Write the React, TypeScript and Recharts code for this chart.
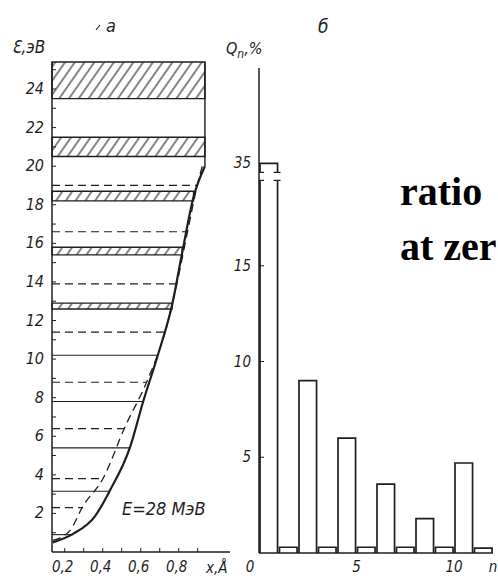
import React from "react";
import {
  Bar,
  BarChart,
  ComposedChart,
  Line,
  ReferenceArea,
  ReferenceLine,
  XAxis,
  YAxis,
} from "recharts";

const INK = "#1e1e1e";
const LABEL_FONT = "'DejaVu Sans Condensed', 'DejaVu Sans', sans-serif";

// ---- panel a: levels in the potential well ----
const X_MIN = 0.133;
const X_MAX = 1.07;
const BOX_RIGHT = 0.938;
const E_MAX = 25.4;

const solidCurve = [
  { x: 0.138, e: 0.5 },
  { x: 0.244, e: 0.94 },
  { x: 0.359, e: 1.85 },
  { x: 0.438, e: 3.19 },
  { x: 0.544, e: 5.44 },
  { x: 0.613, e: 7.8 },
  { x: 0.69, e: 10.2 },
  { x: 0.765, e: 12.8 },
  { x: 0.818, e: 15.5 },
  { x: 0.878, e: 18.4 },
  { x: 0.938, e: 20.0 },
];

const dashedCurve = [
  { x: 0.138, e: 0.6 },
  { x: 0.228, e: 1.12 },
  { x: 0.296, e: 2.38 },
  { x: 0.401, e: 3.8 },
  { x: 0.517, e: 6.48 },
  { x: 0.633, e: 8.85 },
  { x: 0.728, e: 11.39 },
  { x: 0.791, e: 13.93 },
  { x: 0.846, e: 16.58 },
  { x: 0.898, e: 19.02 },
  { x: 0.93, e: 20.2 },
];

// hatched bands: low edge, high edge, right end
const bands = [
  { lo: 23.5, hi: 25.4, end: 0.938 },
  { lo: 20.5, hi: 21.5, end: 0.938 },
  { lo: 18.2, hi: 18.7, end: 0.878 },
  { lo: 15.4, hi: 15.8, end: 0.818 },
  { lo: 12.6, hi: 12.9, end: 0.765 },
];

const solidLevels = [
  { e: 10.2, end: 0.69 },
  { e: 7.8, end: 0.613 },
  { e: 5.4, end: 0.544 },
  { e: 3.15, end: 0.438 },
  { e: 0.9, end: 0.244 },
];

const dashedLevels = [
  { e: 19.0, end: 0.898 },
  { e: 16.6, end: 0.846 },
  { e: 13.9, end: 0.791 },
  { e: 11.4, end: 0.728 },
  { e: 8.8, end: 0.633 },
  { e: 6.4, end: 0.517 },
  { e: 3.8, end: 0.401 },
  { e: 2.3, end: 0.296 },
];

const xTicks = [0.2, 0.3, 0.4, 0.5, 0.6, 0.7, 0.8, 0.9];
const xTickLabels = ["0,2", "", "0,4", "", "0,6", "", "0,8", ""];
const eTicks = Array.from({ length: 25 }, (_, i) => i + 1);

// ---- panel b: histogram ----
const nValues = [0, 1, 2, 3, 4, 5, 6, 7, 8, 9, 10, 11];
const qValues = [35, 0.3, 9.0, 0.3, 6.0, 0.3, 3.6, 0.3, 1.8, 0.3, 4.7, 0.25];
const Q_BREAK_FROM = 16; // values above this are drawn on a broken axis
const Q_BREAK_SHOWN = 20.35; // where 35 sits on the broken axis
const qTicks = [5, 10, 15, 35];

const toShown = (v: number) => (v > Q_BREAK_FROM ? Q_BREAK_SHOWN + (v - 35) : v);

const barRows = nValues.map((n, i) => ({
  pos: n + 0.5,
  q: qValues[i],
  shown: toShown(qValues[i]),
  broken: qValues[i] > Q_BREAK_FROM,
}));

const labelStyle = {
  fontFamily: LABEL_FONT,
  fontStyle: "italic" as const,
  fill: INK,
};

function LeftYTick(props: any) {
  const { x, y, payload } = props;
  const v = Math.round(payload.value as number);
  return (
    <g>
      <line x1={x} x2={x + 4} y1={y} y2={y} stroke={INK} strokeWidth={1} />
      {v % 2 === 0 && (
        <text x={x - 8} y={y} dy={5} textAnchor="end" fontSize={16} {...labelStyle}>
          {v}
        </text>
      )}
    </g>
  );
}

function LeftXTick(props: any) {
  const { x, y, payload } = props;
  const i = xTicks.findIndex((t) => Math.abs(t - payload.value) < 1e-6);
  const label = i >= 0 ? xTickLabels[i] : "";
  return (
    <g>
      <line x1={x} x2={x} y1={y} y2={y - 4} stroke={INK} strokeWidth={1} />
      {label && (
        <text x={x - 2} y={y + 20} textAnchor="middle" fontSize={15} {...labelStyle}>
          {label}
        </text>
      )}
    </g>
  );
}

function RightYTick(props: any) {
  const { x, y, payload } = props;
  const i = qTicks.map(toShown).findIndex((t) => Math.abs(t - payload.value) < 1e-6);
  return (
    <g>
      {i < 3 && <line x1={x} x2={x + 5} y1={y} y2={y} stroke={INK} strokeWidth={1} />}
      <text x={x - 8} y={y} dy={5} textAnchor="end" fontSize={15} {...labelStyle}>
        {qTicks[i]}
      </text>
    </g>
  );
}

function RightXTick(props: any) {
  const { x, y, payload } = props;
  const v = payload.value as number;
  const label = v === 12 ? "n" : String(v);
  return (
    <text x={v === 0 ? x - 9 : x} y={y + 19} textAnchor="middle" fontSize={15} {...labelStyle}>
      {label}
    </text>
  );
}

function BarOutline(props: any) {
  const { x, y, width, height, payload } = props;
  const right = x + width;
  const bottom = y + height;
  if (!payload.broken) {
    return (
      <path
        d={`M${x},${bottom}V${y}H${right}V${bottom}`}
        fill="#fff"
        stroke={INK}
        strokeWidth={1.7}
      />
    );
  }
  const g1 = y + 9;
  const g2 = y + 17;
  return (
    <g>
      <rect x={x} y={y} width={width} height={height} fill="#fff" />
      <rect x={x - 3} y={g1 + 1} width={width + 6} height={g2 - g1 - 2} fill="#fff" />
      <path
        d={`M${x},${g1}V${y}H${right}V${g1} M${x},${g2}V${bottom} M${right},${g2}V${bottom}`}
        fill="none"
        stroke={INK}
        strokeWidth={1.7}
      />
      <path
        d={`M${x - 3},${g1}H${x + 4} M${right - 4},${g1}H${right + 3} M${x - 3},${g2}H${x + 4} M${right - 4},${g2}H${right + 3}`}
        fill="none"
        stroke={INK}
        strokeWidth={1.2}
      />
    </g>
  );
}

function WellPanel() {
  return (
    <ComposedChart width={240} height={578} margin={{ top: 62, right: 10, bottom: 0, left: 7 }}>
      <defs>
        <pattern
          id="hatch"
          width="8"
          height="8"
          patternUnits="userSpaceOnUse"
          patternTransform="rotate(35)"
        >
          <line x1="1" y1="0" x2="1" y2="8" stroke={INK} strokeWidth="1.1" />
        </pattern>
      </defs>
      <XAxis
        type="number"
        dataKey="x"
        domain={[X_MIN, X_MAX]}
        allowDataOverflow
        ticks={xTicks}
        interval={0}
        tick={LeftXTick}
        tickLine={false}
        tickSize={0}
        tickMargin={0}
        height={26}
        axisLine={{ stroke: INK, strokeWidth: 1.5 }}
      />
      <YAxis
        type="number"
        domain={[0, E_MAX]}
        allowDataOverflow
        ticks={eTicks}
        interval={0}
        tick={LeftYTick}
        tickLine={false}
        tickSize={0}
        tickMargin={0}
        width={45}
        axisLine={{ stroke: INK, strokeWidth: 1.5 }}
      />
      {bands.map((b) => (
        <ReferenceArea
          key={`band-${b.lo}`}
          x1={X_MIN}
          x2={b.end}
          y1={b.lo}
          y2={b.hi}
          fill="url(#hatch)"
          fillOpacity={1}
          stroke={INK}
          strokeWidth={1.4}
          ifOverflow="visible"
        />
      ))}
      <ReferenceLine
        segment={[
          { x: BOX_RIGHT, y: 20.0 },
          { x: BOX_RIGHT, y: E_MAX },
        ]}
        stroke={INK}
        strokeWidth={1.4}
        ifOverflow="visible"
      />
      {dashedLevels.map((l) => (
        <ReferenceLine
          key={`d-${l.e}`}
          segment={[
            { x: X_MIN, y: l.e },
            { x: l.end, y: l.e },
          ]}
          stroke={INK}
          strokeWidth={1.2}
          strokeDasharray="8 5"
        />
      ))}
      {solidLevels.map((l) => (
        <ReferenceLine
          key={`s-${l.e}`}
          segment={[
            { x: X_MIN, y: l.e },
            { x: l.end, y: l.e },
          ]}
          stroke={INK}
          strokeWidth={1.1}
        />
      ))}
      <Line
        data={dashedCurve}
        dataKey="e"
        type="monotone"
        stroke={INK}
        strokeWidth={1.3}
        strokeDasharray="8 5"
        dot={false}
        isAnimationActive={false}
      />
      <Line
        data={solidCurve}
        dataKey="e"
        type="monotone"
        stroke={INK}
        strokeWidth={2.2}
        dot={false}
        isAnimationActive={false}
      />
    </ComposedChart>
  );
}

function SharePanel() {
  return (
    <BarChart
      width={288}
      height={578}
      data={barRows}
      margin={{ top: 68, right: 5, bottom: 0, left: 9 }}
      barCategoryGap={0}
      barGap={0}
    >
      <XAxis
        type="number"
        dataKey="pos"
        domain={[0, 12]}
        allowDataOverflow
        ticks={[0, 5, 10, 12]}
        interval={0}
        tick={RightXTick}
        tickLine={false}
        tickSize={0}
        tickMargin={0}
        height={25}
        axisLine={{ stroke: INK, strokeWidth: 1.5 }}
      />
      <YAxis
        type="number"
        domain={[0, 25.33]}
        allowDataOverflow
        ticks={qTicks.map(toShown)}
        interval={0}
        tick={RightYTick}
        tickLine={false}
        tickSize={0}
        tickMargin={0}
        width={40}
        axisLine={{ stroke: INK, strokeWidth: 1.5 }}
      />
      <Bar dataKey="shown" barSize={19.5} shape={BarOutline} isAnimationActive={false} />
    </BarChart>
  );
}

export default function App() {
  return (
    <div
      style={{
        position: "absolute",
        left: 0,
        top: 0,
        width: 498,
        height: 578,
        background: "#fff",
        overflow: "hidden",
      }}
    >
      <div style={{ position: "absolute", left: 0, top: 0 }}>
        <WellPanel />
      </div>
      <div style={{ position: "absolute", left: 210, top: 0 }}>
        <SharePanel />
      </div>
      <svg
        width={498}
        height={578}
        style={{ position: "absolute", left: 0, top: 0, pointerEvents: "none" }}
      >
        <line x1={96} y1={30} x2={100} y2={25} stroke={INK} strokeWidth={1.2} />
        <text x={106} y={32} fontSize={18} {...labelStyle}>а</text>
        <text x={318} y={33} fontSize={19} {...labelStyle}>б</text>
        <text x={12} y={53} fontSize={17} {...labelStyle}>Ɛ,эВ</text>
        <text x={226} y={54} fontSize={16} {...labelStyle}>
          Q<tspan fontSize={12} dy={4}>n</tspan>
          <tspan dy={-4}>,%</tspan>
        </text>
        <text x={122} y={515} fontSize={18} {...labelStyle}>E=28 MэВ</text>
        <text x={206} y={573} fontSize={15} {...labelStyle}>x,Å</text>
        <text
          x={400}
          y={205}
          fontSize={40}
          fontWeight="bold"
          fontFamily="'Liberation Serif', 'Times New Roman', serif"
          fill="#000"
        >
          ratio
        </text>
        <text
          x={400}
          y={260}
          fontSize={40}
          fontWeight="bold"
          fontFamily="'Liberation Serif', 'Times New Roman', serif"
          fill="#000"
        >
          at zer
        </text>
      </svg>
    </div>
  );
}
